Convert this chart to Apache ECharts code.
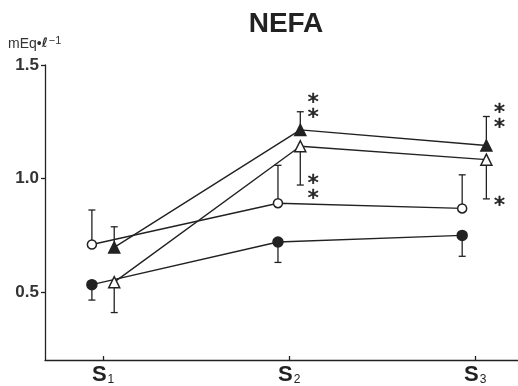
<!DOCTYPE html>
<html><head><meta charset="utf-8">
<script src="https://cdn.jsdelivr.net/npm/echarts@6/dist/echarts.min.js"></script>
<style>html,body{margin:0;padding:0;background:#fff}#c{width:518px;height:386px}</style>
</head><body><div id="c"></div>
<script>
// Category tick positions and labels
const stages = [1, 2, 3];
const stageLabels = ['1', '2', '3'];
const yTicks = [0.5, 1.0, 1.5];
// x positions of the two groups (circles left of the tick, triangles right)
const circleX = [0.94, 1.94, 2.93];
const triX = [1.06, 2.06, 3.06];
// series values (NEFA, mEq/l)
const filledCircle = [0.532, 0.720, 0.749];
const filledCircleErr = [0.464, 0.630, 0.657];   // lower SE bar end
const openCircle = [0.709, 0.891, 0.868];
const openCircleErr = [0.861, 1.058, 1.016];     // upper SE bar end
const filledTri = [0.696, 1.214, 1.145];
const filledTriErr = [0.787, 1.294, 1.273];      // upper SE bar end
const openTri = [0.543, 1.142, 1.083];
const openTriErr = [0.409, 0.971, 0.910];        // lower SE bar end
// significance marks
const sigX = [2.13, 2.13, 3.13, 3.13];
const sigY = [1.325, 0.967, 1.281, 0.906];
const sigText = ['*\n*', '*\n*', '*\n*', '*'];

const INK = '#222';
const chart = echarts.init(document.getElementById('c'));

function pairs(xs, ys) { return xs.map((x, i) => [x, ys[i]]); }
function errData(xs, ys, es) { return xs.map((x, i) => [x, ys[i], es[i]]); }

function errSeries(data) {
  return {
    type: 'custom', data: data, z: 1, silent: true,
    renderItem: function (params, api) {
      const p1 = api.coord([api.value(0), api.value(1)]);
      const p2 = api.coord([api.value(0), api.value(2)]);
      const st = { stroke: INK, lineWidth: 1.3 };
      return { type: 'group', children: [
        { type: 'line', shape: { x1: p1[0], y1: p1[1], x2: p2[0], y2: p2[1] }, style: st },
        { type: 'line', shape: { x1: p2[0] - 3.5, y1: p2[1], x2: p2[0] + 3.5, y2: p2[1] }, style: st }
      ]};
    }
  };
}

function lineSeries(data, symbol, filled, size) {
  return {
    type: 'line', data: data, symbol: symbol, symbolSize: size, showAllSymbol: true, z: 3,
    lineStyle: { color: INK, width: 1.4 },
    itemStyle: { color: filled ? INK : '#fff', borderColor: INK, borderWidth: 1.5 },
    emphasis: { disabled: true }, animation: false
  };
}

chart.setOption({
  animation: false,
  title: {
    text: 'NEFA', left: 281, top: 5, textAlign: 'center',
    textStyle: { fontFamily: 'Liberation Sans', fontWeight: 'bold', fontSize: 28, color: '#222' }
  },
  graphic: [{
    type: 'text', left: 8, top: 35,
    style: {
      text: '{a|mEq\u2022}{b|\u2113}{c|\u22121}',
      rich: {
        a: { fontFamily: 'Liberation Sans', fontSize: 14, fill: '#333' },
        b: { fontFamily: 'DejaVu Sans', fontSize: 13, fontWeight: 'bold', fontStyle: 'italic', fill: '#333' },
        c: { fontFamily: 'Liberation Sans', fontSize: 11, fill: '#333', verticalAlign: 'top', padding: [0, 0, 7, 1] }
      }
    }
  }],
  grid: { left: 45, top: 65, right: 0, bottom: 21, containLabel: false },
  xAxis: {
    type: 'value', min: 0.688, max: 3.23,
    splitLine: { show: false },
    axisLine: { lineStyle: { color: INK, width: 1.3 } },
    axisTick: { customValues: stages, inside: true, length: 4, lineStyle: { color: INK, width: 1.3 } },
    axisLabel: {
      customValues: stages, margin: 4,
      formatter: function (v) { return '{s|S}{n|' + stageLabels[stages.indexOf(v)] + '}'; },
      rich: {
        s: { fontFamily: 'Liberation Sans', fontWeight: 'bold', fontSize: 22, color: '#222' },
        n: { fontFamily: 'Liberation Sans', fontSize: 12, color: '#222', verticalAlign: 'bottom', padding: [8, 0, 0, 1] }
      }
    }
  },
  yAxis: {
    type: 'value', min: 0.2, max: 1.5,
    splitLine: { show: false },
    axisLine: { show: true, lineStyle: { color: INK, width: 1.3 } },
    axisTick: { show: true, customValues: yTicks, length: 4, lineStyle: { color: INK, width: 1.3 } },
    axisLabel: {
      customValues: yTicks, margin: 6,
      formatter: function (v) { return v.toFixed(1); },
      fontFamily: 'Liberation Sans', fontWeight: 'bold', fontSize: 17, color: '#333'
    }
  },
  series: [
    errSeries(errData(circleX, filledCircle, filledCircleErr)),
    errSeries(errData(circleX, openCircle, openCircleErr)),
    errSeries(errData(triX, filledTri, filledTriErr)),
    errSeries(errData(triX, openTri, openTriErr)),
    lineSeries(pairs(circleX, filledCircle), 'circle', true, 10),
    lineSeries(pairs(circleX, openCircle), 'circle', false, 9),
    lineSeries(pairs(triX, filledTri), 'triangle', true, 11),
    lineSeries(pairs(triX, openTri), 'triangle', false, 11),
    {
      type: 'custom', silent: true, z: 4,
      data: sigX.map((x, i) => [x, sigY[i], i]),
      renderItem: function (params, api) {
        const p = api.coord([api.value(0), api.value(1)]);
        return { type: 'text', x: p[0], y: p[1] + 6, style: {
          text: sigText[api.value(2)], fontFamily: 'DejaVu Sans', fontSize: 22, lineHeight: 15,
          fill: '#222', stroke: '#222', lineWidth: 0.6, align: 'center', verticalAlign: 'middle' } };
      }
    }
  ]
});
</script></body></html>
